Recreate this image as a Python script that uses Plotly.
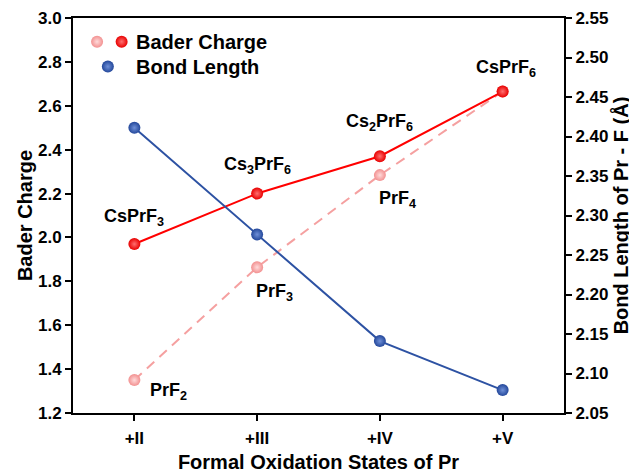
import plotly.graph_objects as go

states = ["+II", "+III", "+IV", "+V"]
bader_complex = [1.97, 2.20, 2.37, 2.665]      # CsPrF3, Cs3PrF6, Cs2PrF6, CsPrF6
bader_binary = [1.35, 1.864, 2.284, 2.665]     # PrF2, PrF3, PrF4, (CsPrF6)
bond_length = [2.411, 2.276, 2.141, 2.079]
complex_labels = ["CsPrF<sub>3</sub>", "Cs<sub>3</sub>PrF<sub>6</sub>", "Cs<sub>2</sub>PrF<sub>6</sub>", "CsPrF<sub>6</sub>"]
binary_labels = ["PrF<sub>2</sub>", "PrF<sub>3</sub>", "PrF<sub>4</sub>"]

x = list(range(len(states)))
FONT = "Liberation Sans, Arial, sans-serif"

RED, RED_C = "#e80000", "#ff7070"
PINK, PINK_C = "#f29090", "#ffdada"
BLUE, BLUE_C = "#23479a", "#6f90d8"
LINE_RED = "#ff0000"
LINE_PINK = "#f5a0a0"
LINE_BLUE = "#2d52a3"

fig = go.Figure()

fig.add_trace(go.Scatter(
    x=x, y=bader_binary, mode="lines+markers",
    line=dict(color=LINE_PINK, width=2, dash="10px,7px"),
    marker=dict(size=12, color=PINK, gradient=dict(type="radial", color=PINK_C)),
    showlegend=False))
fig.add_trace(go.Scatter(
    x=x, y=bader_complex, mode="lines+markers",
    line=dict(color=LINE_RED, width=2),
    marker=dict(size=12, color=RED, gradient=dict(type="radial", color=RED_C)),
    showlegend=False))
fig.add_trace(go.Scatter(
    x=x, y=bond_length, mode="lines+markers", yaxis="y2",
    line=dict(color=LINE_BLUE, width=2),
    marker=dict(size=12, color=BLUE, gradient=dict(type="radial", color=BLUE_C)),
    showlegend=False))

# legend glyphs on a helper axis in paper fractions
fig.add_trace(go.Scatter(
    x=[0.049, 0.099, 0.071], y=[0.94, 0.94, 0.877], mode="markers",
    xaxis="x3", yaxis="y3", hoverinfo="skip",
    marker=dict(size=12, color=[PINK, RED, BLUE],
                gradient=dict(type="radial", color=[PINK_C, RED_C, BLUE_C])),
    showlegend=False))

LBL = dict(family=FONT, size=18, color="black", weight="bold")
annotations = []
cpos = [(0.0, 2.09), (1.0, 2.33), (2.0, 2.523), (3.03, 2.771)]
for (ax_, ay_), t in zip(cpos, complex_labels):
    annotations.append(dict(x=ax_, y=ay_, xref="x", yref="y", text=t, showarrow=False,
                            xanchor="center", yanchor="middle", font=LBL))
bpos = [(0.275, 1.297), (1.14, 1.747), (2.14, 2.174)]
for (ax_, ay_), t in zip(bpos, binary_labels):
    annotations.append(dict(x=ax_, y=ay_, xref="x", yref="y", text=t, showarrow=False,
                            xanchor="center", yanchor="middle", font=LBL))
LEG = dict(family=FONT, size=20, color="black", weight="bold")
annotations.append(dict(x=0.125, y=0.94, xref="paper", yref="paper", text="Bader Charge",
                        xanchor="left", yanchor="middle", showarrow=False, font=LEG))
annotations.append(dict(x=0.125, y=0.877, xref="paper", yref="paper", text="Bond Length",
                        xanchor="left", yanchor="middle", showarrow=False, font=LEG))

axis_font = dict(family=FONT, size=17, color="black", weight="bold")
title_font = dict(family=FONT, size=20, color="black", weight="bold")
common = dict(showgrid=False, zeroline=False, showline=True, linecolor="black", linewidth=2,
              ticks="outside", ticklen=6, tickwidth=2, tickcolor="black",
              tickfont=axis_font, automargin=False)

# page body has an 8px margin, so the figure is sized to fit inside 637x473
fig.update_layout(
    width=629, height=465,
    margin=dict(l=65, r=73, t=10, b=60),
    paper_bgcolor="white", plot_bgcolor="white",
    font=dict(family=FONT),
    annotations=annotations,
    xaxis=dict(range=[-0.5, 3.5], tickvals=x, ticktext=states, mirror=True,
               ticklabelstandoff=3,
               title=dict(text="Formal Oxidation States of Pr", font=title_font, standoff=8),
               **common),
    yaxis=dict(range=[1.2, 3.0], dtick=0.2, tickformat=".1f",
               title=dict(text="Bader Charge", font=title_font, standoff=0), **common),
    yaxis2=dict(range=[2.05, 2.55], dtick=0.05, tickformat=".2f",
                overlaying="y", side="right",
                title=dict(text="Bond Length of Pr - F (Å)", font=title_font, standoff=7),
                **common),
    xaxis3=dict(range=[0, 1], overlaying="x", visible=False, fixedrange=True),
    yaxis3=dict(range=[0, 1], overlaying="y", visible=False, fixedrange=True),
)

fig.write_html("out.html")
